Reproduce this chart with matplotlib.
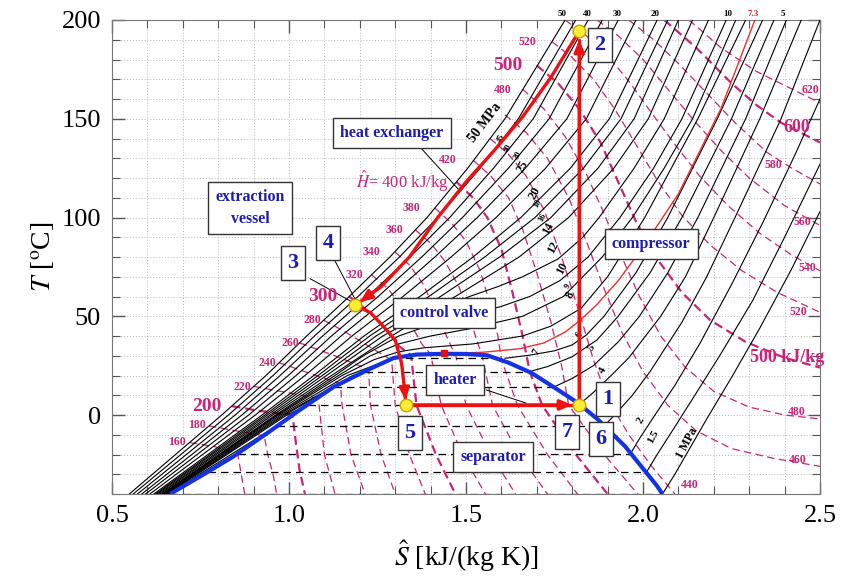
import numpy as np
import matplotlib.pyplot as plt
from matplotlib.ticker import MultipleLocator

plt.rcParams['font.family'] = ['Liberation Serif', 'DejaVu Serif']
plt.rcParams['mathtext.fontset'] = 'stix'

PINK = '#cc2277'
BLUE = '#1c1cb4'
RED = '#ee1111'

# ---- saturation dome (S [kJ/kgK], T [C]) ----
DOME_S = [0.664, 0.75, 0.843, 0.94, 1.03, 1.126, 1.222, 1.296, 1.36, 1.438,
          1.50, 1.56, 1.62, 1.685, 1.76, 1.817, 1.874, 1.95, 2.04, 2.055]
DOME_T = [-40, -31, -21, -9, 2.5, 14.2, 22.8, 28.9, 30.6, 31.0,
          30.9, 30.2, 26.5, 21.3, 12.7, 6.0, -2.5, -16, -36, -40]

# two-phase isobars: saturation temperature, liquid and vapour entropy
TP_T = [-40.0, -28.9, -19.5, -5.5, 5.3, 14.3, 22.0, 28.7]
TP_SL = [0.664, 0.77, 0.855, 0.965, 1.055, 1.127, 1.215, 1.294]
TP_SV = [2.055, 2.01, 1.965, 1.89, 1.82, 1.75, 1.68, 1.61]

# ---- supercritical isobars on a common temperature grid ----
SC_T = [-40, 0, 20, 40, 60, 80, 100, 125, 150, 200]
SC_P = [50, 45, 40, 35, 30, 25, 20, 18, 16, 14]
SC_S = [
    [.549, .810, .935, 1.050, 1.170, 1.285, 1.390, 1.505, 1.610, 1.780],
    [.560, .829, .955, 1.072, 1.195, 1.312, 1.420, 1.540, 1.648, 1.810],
    [.572, .848, .975, 1.095, 1.222, 1.342, 1.454, 1.578, 1.690, 1.845],
    [.584, .867, .998, 1.120, 1.252, 1.375, 1.490, 1.620, 1.735, 1.885],
    [.595, .886, 1.020, 1.147, 1.285, 1.412, 1.532, 1.668, 1.785, 1.930],
    [.607, .905, 1.045, 1.178, 1.322, 1.458, 1.585, 1.725, 1.840, 1.980],
    [.618, .924, 1.070, 1.212, 1.370, 1.520, 1.655, 1.795, 1.905, 2.040],
    [.623, .932, 1.082, 1.228, 1.395, 1.553, 1.695, 1.832, 1.938, 2.070],
    [.627, .939, 1.094, 1.246, 1.428, 1.595, 1.740, 1.873, 1.975, 2.100],
    [.632, .947, 1.106, 1.265, 1.470, 1.650, 1.790, 1.918, 2.015, 2.140],
]

# near-critical supercritical isobars (12, 10, 9, 8 MPa)
NC_T = [
    [-40, 0, 20, 40, 50, 55, 60, 65, 70, 79, 90, 100, 125, 150, 200],
    [-40, 0, 20, 30, 40, 45, 50, 55, 60, 68, 80, 100, 125, 150, 200],
    [-40, 0, 20, 30, 36, 40, 44, 50, 60, 80, 100, 125, 150, 200],
    [-40, 0, 20, 28, 32, 34, 36, 40, 45, 54, 70, 100, 150, 200],
]
NC_S = [
    [.636, .954, 1.12, 1.29, 1.38, 1.44, 1.51, 1.59, 1.66, 1.76, 1.83, 1.876, 1.975, 2.06, 2.185],
    [.641, .962, 1.13, 1.21, 1.31, 1.39, 1.50, 1.60, 1.68, 1.765, 1.845, 1.935, 2.03, 2.11, 2.235],
    [.643, .966, 1.14, 1.23, 1.31, 1.40, 1.52, 1.66, 1.775, 1.885, 1.97, 2.06, 2.14, 2.262],
    [.646, .970, 1.15, 1.24, 1.31, 1.38, 1.52, 1.66, 1.74, 1.825, 1.90, 2.005, 2.155, 2.29],
]

# critical isobar (7.3 MPa, red)
CRIT_S = [1.43, 1.55, 1.65, 1.72, 1.78, 1.823, 1.87, 1.93, 2.00, 2.10, 2.22, 2.316]
CRIT_T = [31, 31.8, 33.5, 36.5, 42, 48, 56, 68, 85, 112, 155, 200]

# subcritical isobars, vapour part (7 ... 1 MPa)
SUB_S = [
    [1.61, 1.68, 1.75, 1.80, 1.84, 1.89, 1.98, 2.07, 2.21, 2.338],
    [1.68, 1.73, 1.80, 1.87, 1.93, 2.02, 2.11, 2.25, 2.37],
    [1.75, 1.80, 1.86, 1.93, 1.99, 2.07, 2.155, 2.29, 2.405],
    [1.82, 1.86, 1.91, 1.96, 2.05, 2.12, 2.20, 2.33, 2.447],
    [1.89, 1.92, 1.97, 2.02, 2.11, 2.18, 2.26, 2.39, 2.50],
    [1.965, 1.99, 2.03, 2.09, 2.16, 2.25, 2.34, 2.43, 2.50],
    [2.01, 2.04, 2.09, 2.15, 2.22, 2.31, 2.40, 2.50],
    [2.055, 2.09, 2.135, 2.18, 2.25, 2.33, 2.42, 2.50],
]
SUB_T = [
    [28.7, 30.3, 32.5, 35.5, 40.5, 50, 72, 100, 150, 200],
    [22, 24.5, 29.5, 38, 50, 72, 100, 150, 200],
    [14.3, 18.5, 25, 37, 50, 72, 100, 150, 200],
    [5.3, 11.5, 20, 29, 50, 70, 100, 150, 200],
    [-5.5, 0, 10, 22, 47, 70, 100, 150, 200],
    [-19.5, -12, -1, 15, 36, 66, 98, 132, 160],
    [-28.9, -20, -6, 11, 31, 58, 90, 127],
    [-40, -30, -16, -2, 19, 44, 74, 103],
]
# subcritical isobars, compressed-liquid part (7 ... 2 MPa)
LIQ_S = [
    [.648, .976, 1.165, 1.294],
    [.651, .982, 1.180, 1.215],
    [.653, .988, 1.127],
    [.656, .994, 1.055],
    [.658, .965],
    [.661, .855],
]
LIQ_T = [
    [-40, 0, 20, 28.7],
    [-40, 0, 20, 22],
    [-40, 0, 14.3],
    [-40, 0, 5.3],
    [-40, -5.5],
    [-40, -19.5],
]

# ---- isenthalps (kJ/kg) ----
H_VAL = [160, 180, 200, 220, 240, 260, 280, 300, 320, 340, 360, 380, 400,
         420, 440, 460, 480, 500, 520, 540, 560, 580, 600, 620]
H_S = [
    [0.72, 0.79, 0.855, 0.865, 0.875],
    [0.774, 0.85, 0.93, 0.94, 0.955, 0.965],
    [0.838, 0.92, 1.01, 1.02, 1.03, 1.045],
    [0.90, 0.99, 1.08, 1.085, 1.10, 1.13],
    [0.972, 1.06, 1.145, 1.15, 1.175, 1.215],
    [1.03, 1.13, 1.225, 1.23, 1.26, 1.30],
    [1.098, 1.15, 1.21, 1.26, 1.29, 1.30, 1.34, 1.385],
    [1.17, 1.20, 1.24, 1.28, 1.31, 1.345, 1.36, 1.415, 1.47],
    [1.233, 1.28, 1.32, 1.35, 1.375, 1.40, 1.43, 1.49, 1.555],
    [1.30, 1.34, 1.38, 1.41, 1.44, 1.46, 1.47, 1.50, 1.57, 1.64],
    [1.357, 1.40, 1.44, 1.48, 1.51, 1.53, 1.545, 1.575, 1.65, 1.73],
    [1.412, 1.46, 1.50, 1.54, 1.57, 1.59, 1.60, 1.645, 1.73, 1.815],
    [1.473, 1.52, 1.56, 1.60, 1.63, 1.66, 1.68, 1.715, 1.81, 1.90],
    [1.52, 1.57, 1.62, 1.66, 1.70, 1.74, 1.77, 1.785, 1.79, 1.89, 1.985],
    [1.568, 1.62, 1.67, 1.72, 1.77, 1.82, 1.86, 1.90, 1.96, 2.02, 2.09],
    [1.61, 1.67, 1.73, 1.79, 1.84, 1.89, 1.94, 2.00, 2.07, 2.15, 2.25, 2.37, 2.5],
    [1.66, 1.72, 1.78, 1.84, 1.89, 1.94, 1.99, 2.05, 2.12, 2.20, 2.30, 2.40, 2.5],
    [1.70, 1.76, 1.82, 1.88, 1.93, 1.98, 2.04, 2.11, 2.19, 2.29, 2.40, 2.5],
    [1.743, 1.80, 1.86, 1.92, 1.98, 2.04, 2.11, 2.19, 2.28, 2.38, 2.5],
    [1.78, 1.84, 1.90, 1.96, 2.02, 2.09, 2.16, 2.24, 2.33, 2.42, 2.5],
    [1.87, 1.93, 2.00, 2.07, 2.14, 2.22, 2.30, 2.40, 2.5],
    [1.96, 2.03, 2.10, 2.18, 2.26, 2.35, 2.42, 2.5],
    [2.06, 2.15, 2.25, 2.32, 2.39, 2.5],
    [2.13, 2.22, 2.32, 2.41, 2.5],
]
H_T = [
    [-14, -16, -19.5, -30, -40],
    [-5.5, -8, -10.5, -20, -30, -40],
    [4.5, 2, 0, -15, -28, -40],
    [14.5, 11.5, 8.5, 5, -20, -40],
    [26.5, 21, 16, 5, -20, -40],
    [36.5, 30, 23, 5, -20, -40],
    [48, 43, 36.5, 31, 27.8, 5, -20, -40],
    [60, 56, 50, 42, 35, 30.2, 5, -20, -40],
    [71, 64, 54, 44, 36, 30.9, 5, -20, -40],
    [82.5, 76, 66, 54, 42, 34, 31, 5, -20, -40],
    [93.7, 87, 78, 65, 50, 38, 30.4, 5, -20, -40],
    [104.8, 97, 88, 73, 55, 40, 28.3, 5, -20, -40],
    [118, 110, 100, 84, 63, 40, 22, 5, -20, -40],
    [129, 121, 110, 94, 72, 47, 25, 10, 5, -20, -40],
    [140, 132, 121, 104, 80, 52, 28, 8, -10, -25, -40],
    [152, 143, 130, 110, 88, 64, 42, 22, 5, -8, -17, -22, -26],
    [165, 155, 141, 122, 102, 80, 60, 40, 24, 12, 4, 0, -2],
    [177, 168, 155, 138, 118, 98, 79, 62, 48, 37, 29, 24],
    [189, 181, 170, 155, 137, 119, 101, 86, 73, 62, 52],
    [200, 192, 182, 169, 154, 137, 121, 106, 92, 81, 73],
    [200, 192, 180, 165, 150, 134, 120, 106, 96],
    [200, 190, 178, 163, 148, 133, 125, 117],
    [200, 186, 168, 157, 148, 138],
    [200, 186, 174, 166, 158],
]

H_LEFT_TXT = ['160', '180', '200', '220', '240', '260', '280', '300', '320',
              '340', '360', '380', '420', '480', '500', '520']
H_LEFT_S = [0.684, 0.740, 0.768, 0.867, 0.938, 1.003, 1.065, 1.096, 1.186,
            1.234, 1.297, 1.347, 1.449, 1.605, 1.619, 1.672]
H_LEFT_T = [-13.7, -5.1, 4.1, 14.2, 26.3, 36.5, 48.1, 59.8, 70.9,
            82.5, 93.7, 104.8, 129.1, 164.6, 177.2, 188.9]
H_RIGHT_TXT = ['620', '600', '580', '560', '540', '520', '500 kJ/kg', '480', '460', '440']
H_RIGHT_S = [2.472, 2.435, 2.367, 2.449, 2.463, 2.438, 2.407, 2.435, 2.438, 2.133]
H_RIGHT_T = [164.6, 145.8, 126.6, 97.7, 74.4, 52.2, 28.9, 1.5, -22.8, -35.4]

# pressure labels along the isobars
P_TXT = ['50 MPa', '45', '40', '30', '25', '20', '18', '16', '14', '12', '10', '9', '8',
         '7', '6', '5', '4', '2', '1.5', '1 MPa']
P_S = [1.554, 1.598, 1.620, 1.646, 1.661, 1.695, 1.703, 1.715, 1.732, 1.746, 1.771,
       1.788, 1.794, 1.700, 1.822, 1.856, 1.887, 1.992, 2.028, 2.124]
P_T = [147.9, 140.0, 135.0, 131.5, 126.0, 112.4, 107.3, 100.3, 94.7, 85.1, 74.4,
       65.3, 60.8, 31.9, 40.5, 33.9, 22.8, -2.5, -11.1, -14.2]
P_SIZE = [10, 6, 6, 6, 8.5, 9, 6, 6, 8.5, 8.5, 8.5, 6, 8.5, 7, 7, 7.5, 8, 8, 8, 8.5]
TOP_TXT = ['50', '40', '30', '20', '10', '7.3', '5']
TOP_S = [1.771, 1.842, 1.927, 2.034, 2.240, 2.311, 2.395]

# ---- cycle ----
HX_S = [1.820, 1.74, 1.66, 1.58, 1.50, 1.42, 1.34, 1.26, 1.20]
HX_T = [194.4, 171, 151, 134, 118, 100, 80, 65, 57.2]
CV_S = [1.186, 1.231, 1.268, 1.300, 1.318, 1.327, 1.329]
CV_T = [55.7, 51.7, 44.6, 38.0, 26.3, 12.0, 7.5]
HT_S = [1.330, 1.800]
HT_T = [5.1, 5.1]
CP_S = [1.820, 1.820]
CP_T = [5.1, 190.0]
PTS_S = [1.186, 1.330, 1.820, 1.820]
PTS_T = [55.7, 5.1, 5.1, 194.4]

NUM_TXT = ['1', '2', '3', '4', '5', '6', '7']
NUM_S = [1.901, 1.879, 1.011, 1.110, 1.342, 1.881, 1.785]
NUM_T = [8.1, 187.3, 77.0, 87.1, -9.1, -12.1, -8.6]

BOX_TXT = ['heat exchanger', 'extraction\nvessel', 'control valve',
           'compressor', 'heater', 'separator']
BOX_S = [1.291, 0.890, 1.438, 2.023, 1.469, 1.576]
BOX_T = [142.8, 104.8, 51.7, 86.6, 17.7, -21.3]

fig = plt.figure(figsize=(8.41, 5.83), dpi=100)
ax = fig.add_axes([112 / 841, 89 / 583, 708 / 841, 474 / 583])
ax.set_xlim(0.5, 2.5)
ax.set_ylim(-40, 200)

# grid
ax.xaxis.set_major_locator(MultipleLocator(0.5))
ax.xaxis.set_minor_locator(MultipleLocator(0.1))
ax.yaxis.set_major_locator(MultipleLocator(50))
ax.yaxis.set_minor_locator(MultipleLocator(10))
ax.grid(which='both', ls=(0, (1, 2)), color='#b8b8b8', lw=0.7, zorder=0)
ax.set_axisbelow(True)

# isenthalps
for h, s, t in zip(H_VAL, H_S, H_T):
    if h % 100 == 0:
        ax.plot(s, t, color=PINK, lw=1.6, ls=(0, (4, 2.2)), zorder=2)
    else:
        ax.plot(s, t, color=PINK, lw=0.9, ls=(0, (6, 3.5)), zorder=2)

# isobars
for s in SC_S:
    ax.plot(s, SC_T, color='k', lw=0.8, zorder=3)
for s, t in zip(NC_S, NC_T):
    ax.plot(s, t, color='k', lw=0.8, zorder=3)
for s, t in zip(SUB_S, SUB_T):
    ax.plot(s, t, color='k', lw=0.8, zorder=3)
for s, t in zip(LIQ_S, LIQ_T):
    ax.plot(s, t, color='k', lw=0.8, zorder=3)
for t, sl, sv in zip(TP_T, TP_SL, TP_SV):
    ax.plot([sl, sv], [t, t], color='k', lw=0.9, ls=(0, (6, 4)), zorder=3)
ax.plot(CRIT_S, CRIT_T, color='#e83030', lw=1.0, zorder=3.5)

# saturation dome
ax.plot(DOME_S, DOME_T, color='#1533e6', lw=3, zorder=4, solid_capstyle='butt')
ax.plot([1.438], [31.3], 's', color='#e01010', ms=4, zorder=4.5)

# cycle
for s, t in [(HX_S, HX_T), (CV_S, CV_T), (HT_S, HT_T), (CP_S, CP_T)]:
    ax.plot(s, t, color=RED, lw=2.4, zorder=6, solid_capstyle='round')
    ax.annotate('', xy=(s[-1], t[-1]), xytext=(s[-2], t[-2]),
                arrowprops=dict(arrowstyle='-|>,head_length=0.7,head_width=0.3',
                                color=RED, lw=2.4, shrinkA=0, shrinkB=0),
                zorder=6)
ax.plot(PTS_S, PTS_T, 'o', ms=9, mfc='#ffee30', mec='#c9a400', mew=1, zorder=7)

# leader lines
ax.plot([1.06, 1.186], [69, 56.5], color='k', lw=0.7, zorder=5)
ax.plot([1.13, 1.19], [78, 57.5], color='k', lw=0.7, zorder=5)
ax.plot([1.37, 1.48], [135.7, 114], color='k', lw=0.7, zorder=5)
ax.plot([1.557, 1.67], [12.7, 6.0], color='k', lw=0.7, zorder=5)

# isenthalp labels
for txt, s, t in zip(H_LEFT_TXT, H_LEFT_S, H_LEFT_T):
    big = int(txt) % 100 == 0
    ax.text(s, t, txt, color=PINK, fontsize=14 if big else 8.5, fontweight='bold',
            ha='center', va='center', zorder=5)
for txt, s, t in zip(H_RIGHT_TXT, H_RIGHT_S, H_RIGHT_T):
    big = txt.startswith('500') or txt == '600'
    ax.text(s, t, txt, color=PINK, fontsize=13 if big else 8.5, fontweight='bold',
            ha='center', va='center', zorder=5)
ax.text(1.319, 118, r'$\hat{H}$= 400 kJ/kg', color=PINK, fontsize=12,
        ha='center', va='center', zorder=5)

# pressure labels
for txt, s, t, fs in zip(P_TXT, P_S, P_T, P_SIZE):
    rot = 53 if txt == '50 MPa' else 62
    ax.text(s, t, txt, color='k', fontsize=fs, fontweight='bold', rotation=rot,
            ha='center', va='center', zorder=5)
for txt, s in zip(TOP_TXT, TOP_S):
    ax.text(s, 1.004, txt, color='#e02020' if txt == '7.3' else 'k', fontsize=6.5,
            fontweight='bold', ha='center', va='bottom',
            transform=ax.get_xaxis_transform())

# boxes
for txt, s, t in zip(NUM_TXT, NUM_S, NUM_T):
    ax.text(s, t, txt, color=BLUE, fontsize=16, fontweight='bold', ha='center',
            va='center', zorder=8,
            bbox=dict(boxstyle='square,pad=0.3', fc='white', ec='#333333', lw=1))
for txt, s, t in zip(BOX_TXT, BOX_S, BOX_T):
    ax.text(s, t, txt, color=BLUE, fontsize=11.5, fontweight='bold', ha='center',
            va='center', zorder=8, linespacing=1.5,
            bbox=dict(boxstyle='square,pad=0.45', fc='white', ec='#333333', lw=1))

# axes styling
ax.tick_params(which='both', direction='in', top=True, right=True, labelsize=19,
               color='#555555', pad=8)
ax.tick_params(which='major', length=9, width=1)
ax.tick_params(which='minor', length=6, width=0.8)
ax.set_xticks([0.5, 1.0, 1.5, 2.0, 2.5])
ax.set_xticklabels(['0.5', '1.0', '1.5', '2.0', '2.5'])
for sp in ax.spines.values():
    sp.set_color('#777777')
ax.set_xlabel(r'$\hat{S}$ [kJ/(kg K)]', fontsize=20, labelpad=8)
ax.set_ylabel(r'$T$ [$^{\rm o}$C]', fontsize=20, labelpad=4)

fig.savefig('out.png', dpi=100)
